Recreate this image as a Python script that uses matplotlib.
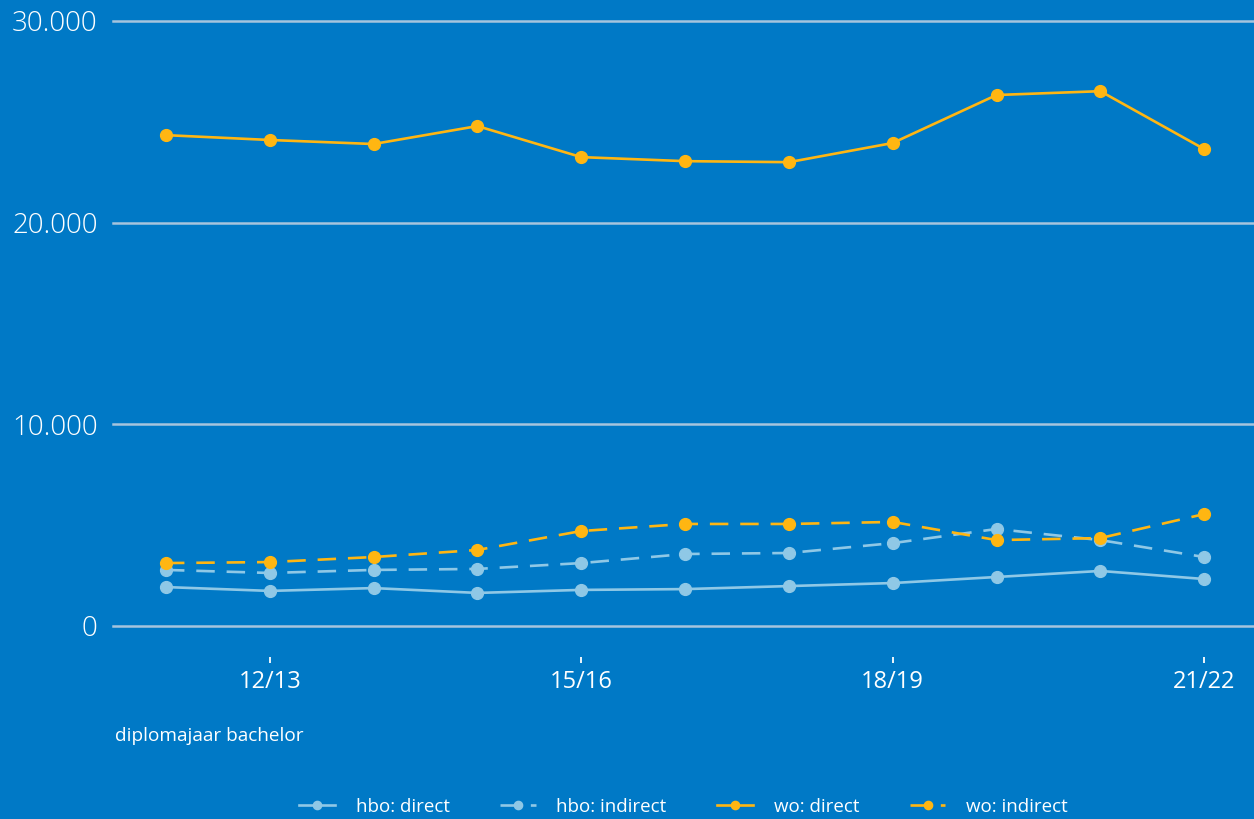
import matplotlib.pyplot as plt
import numpy as np

# data
jaren = ['11/12', '12/13', '13/14', '14/15', '15/16', '16/17',
         '17/18', '18/19', '19/20', '20/21', '21/22']
hbo_direct = [1930, 1740, 1880, 1640, 1790, 1830, 1980, 2130, 2430, 2730, 2330]
hbo_indirect = [2780, 2630, 2780, 2830, 3120, 3570, 3620, 4110, 4810, 4260, 3420]
wo_direct = [24340, 24100, 23900, 24790, 23250, 23050, 23000, 23950, 26330, 26520, 23650]
wo_indirect = [3120, 3170, 3420, 3770, 4710, 5060, 5060, 5160, 4260, 4360, 5550]
tick_jaren = ['12/13', '15/16', '18/19', '21/22']
y_ticks = [0, 10000, 20000, 30000]
y_labels = ['0', '10.000', '20.000', '30.000']

bg = '#0079C6'
lichtblauw = '#8FC8E6'
oranje = '#FFB612'
grid_kleur = '#A6C4DD'

plt.rcParams['font.family'] = ['Open Sans', 'DejaVu Sans']

fig = plt.figure(figsize=(12.54, 8.19), dpi=100, facecolor=bg)
ax = fig.add_axes([113 / 1254, 1 - 626 / 819, 1 - 113 / 1254, (626 - 21) / 819])
ax.set_facecolor(bg)

x = np.arange(len(jaren))
stijl = dict(lw=1.9, marker='o', markersize=8.5, clip_on=False)
ax.plot(x, hbo_direct, color=lichtblauw, label='hbo: direct', **stijl)
ax.plot(x, hbo_indirect, color=lichtblauw, label='hbo: indirect', dashes=(7, 4.5), **stijl)
ax.plot(x, wo_direct, color=oranje, label='wo: direct', **stijl)
ax.plot(x, wo_indirect, color=oranje, label='wo: indirect', dashes=(7, 4.5), **stijl)

ax.set_ylim(0, 30000)
ax.set_xlim(-0.51, 10.48)
ax.set_yticks(y_ticks)
ax.set_yticklabels(y_labels, fontweight='light')
ax.grid(axis='y', color=grid_kleur, lw=1.8)
ax.set_axisbelow(True)
for gl in ax.get_ygridlines():
    gl.set_clip_on(False)

ax.set_xticks([jaren.index(j) for j in tick_jaren])
ax.set_xticklabels(tick_jaren)

for s in ['top', 'right', 'left']:
    ax.spines[s].set_visible(False)
ax.spines['bottom'].set_position(('outward', 26.5))
ax.spines['bottom'].set_color('none')

ax.tick_params(axis='y', length=0, pad=11, labelsize=20, labelcolor='white')
ax.tick_params(axis='x', direction='in', length=4.2, width=1.3, color='white',
               pad=5, labelsize=17, labelcolor='white')

fig.text(115 / 1254, 1 - 736 / 819, 'diplomajaar bachelor', color='white',
         fontsize=13.7, va='center', ha='left')

leg = ax.legend(loc='center', bbox_to_anchor=(0.5, -(807 - 626) / 605), ncol=4,
                frameon=False, fontsize=13.5, handlelength=1.9, handletextpad=1.1,
                columnspacing=2.7, labelcolor='white', markerscale=0.7)

fig.savefig('out.png', dpi=100, facecolor=bg)
